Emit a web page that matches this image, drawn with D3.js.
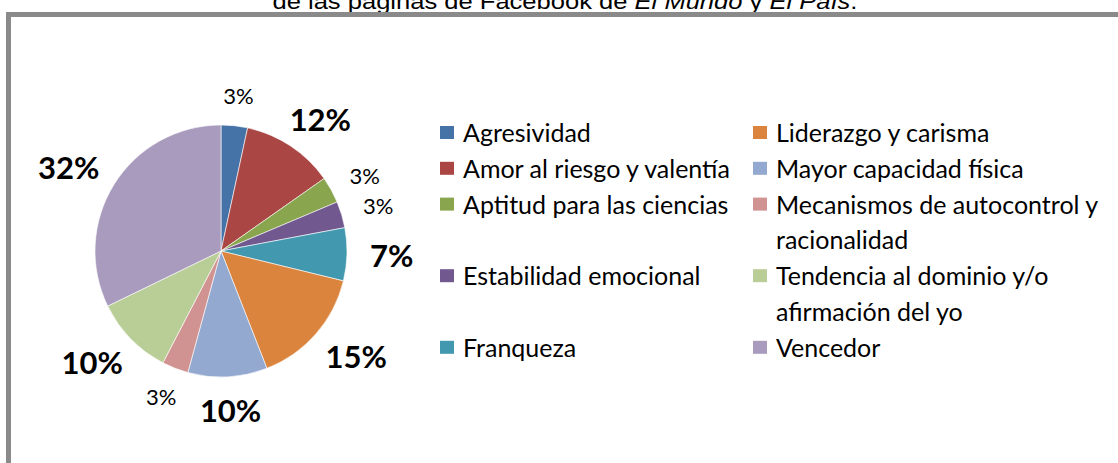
<!DOCTYPE html>
<html>
<head>
<meta charset="utf-8">
<script src="https://cdn.jsdelivr.net/npm/d3@7"></script>
<style>
  body { margin: 0; background: #fff; }
  svg { display: block; }
</style>
</head>
<body>
<svg id="chart" width="1118" height="463"></svg>
<script>
// data (counts, shown as rounded percentages)
const categories = [
  "Agresividad",
  "Amor al riesgo y valentía",
  "Aptitud para las ciencias",
  "Estabilidad emocional",
  "Franqueza",
  "Liderazgo y carisma",
  "Mayor capacidad física",
  "Mecanismos de autocontrol y racionalidad",
  "Tendencia al dominio y/o afirmación del yo",
  "Vencedor"
];
const counts = [2, 7, 2, 2, 4, 9, 6, 2, 6, 19];
const colors = ["#4572A7", "#AA4643", "#89A54E", "#71588F", "#4198AF",
                "#DB843D", "#93A9CF", "#D19392", "#B9CD96", "#A99BBD"];
// caption line above the frame (top is cut off in the original)
const titleParts = [
  { t: "de las páginas de Facebook de ", it: false },
  { t: "El Mundo", it: true },
  { t: " y ", it: false },
  { t: "El País", it: true },
  { t: ".", it: false }
];

const svg = d3.select("#chart");
const font = "Lato, 'Open Sans', sans-serif";

// caption
const title = svg.append("text")
  .attr("x", 565).attr("y", 9)
  .attr("text-anchor", "middle")
  .attr("font-family", "'Liberation Sans', Arial, sans-serif")
  .attr("font-size", 22)
  .attr("textLength", 585)
  .attr("lengthAdjust", "spacingAndGlyphs")
  .attr("fill", "#000");
title.selectAll("tspan").data(titleParts).enter().append("tspan")
  .attr("font-style", d => d.it ? "italic" : "normal")
  .text(d => d.t);

// frame
svg.append("rect")
  .attr("x", 8.5).attr("y", 14.5)
  .attr("width", 1200).attr("height", 600)
  .attr("fill", "none")
  .attr("stroke", "#8a8a8a")
  .attr("stroke-width", 5);

// pie
const cx = 221, cy = 251, r = 126;
const total = d3.sum(counts);
const pie = d3.pie().sort(null).value(d => d)(counts);
const arc = d3.arc().innerRadius(0).outerRadius(r);

const g = svg.append("g").attr("transform", `translate(${cx},${cy})`);
g.selectAll("path").data(pie).enter().append("path")
  .attr("d", arc)
  .attr("fill", (d, i) => colors[i])
  .attr("stroke", "#fff")
  .attr("stroke-width", 0.6);

// percentage labels, pushed just outside the rim
const gap = 23;
g.selectAll("text.lbl").data(pie).enter().append("text")
  .attr("class", "lbl")
  .attr("font-family", font)
  .attr("text-anchor", "middle")
  .attr("dominant-baseline", "central")
  .attr("fill", "#000")
  .each(function(d) {
    const pct = Math.round(d.value / total * 100);
    const big = pct >= 5;
    const t = d3.select(this)
      .attr("font-size", big ? 31 : 22)
      .attr("font-weight", big ? "bold" : "normal")
      .text(pct + "%");
    const hw = this.getComputedTextLength() / 2, hh = big ? 10 : 7.5;
    const a = (d.startAngle + d.endAngle) / 2;
    const s = Math.sin(a), c = -Math.cos(a);
    t.attr("x", s * (r + gap) + hw * s)
     .attr("y", c * (r + gap) + hh * c);
  });

// legend: two columns, filled column by column
const half = Math.ceil(categories.length / 2);
const colX = [440, 753];
const textOff = 23;
const maxW = [295, 340];
const lineH = 35.8;
const lg = svg.append("g").attr("font-family", font).attr("font-size", 25).attr("fill", "#000");

// word-wrap helper
function wrapLines(str, width) {
  const probe = lg.append("text").attr("visibility", "hidden");
  const words = str.split(" ");
  const lines = [];
  let cur = "";
  words.forEach(w => {
    const test = cur ? cur + " " + w : w;
    probe.text(test);
    if (probe.node().getComputedTextLength() > width && cur) {
      lines.push(cur);
      cur = w;
    } else cur = test;
  });
  lines.push(cur);
  probe.remove();
  return lines;
}

const items = categories.map((name, i) => {
  const col = i < half ? 0 : 1;
  return { name, i, col, row: i % half, lines: wrapLines(name, maxW[col]) };
});

let baseY = 142;
for (let row = 0; row < half; row++) {
  const pair = items.filter(d => d.row === row);
  const nLines = d3.max(pair, d => d.lines.length);
  pair.forEach(d => {
    lg.append("rect")
      .attr("x", colX[d.col]).attr("y", baseY - 16)
      .attr("width", 14).attr("height", 13)
      .attr("fill", colors[d.i]);
    const t = lg.append("text").attr("x", colX[d.col] + textOff).attr("y", baseY);
    d.lines.forEach((ln, k) => {
      t.append("tspan")
        .attr("x", colX[d.col] + textOff)
        .attr("y", baseY + k * lineH)
        .text(ln);
    });
  });
  baseY += nLines * lineH;
}
</script>
</body>
</html>
